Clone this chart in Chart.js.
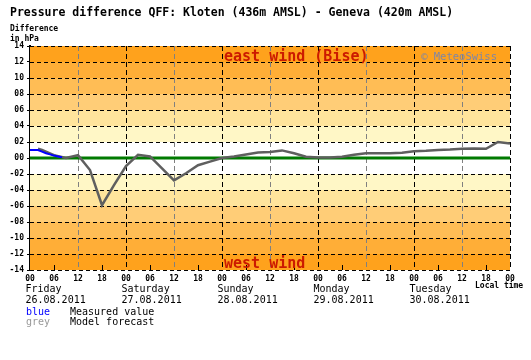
<!DOCTYPE html>
<html><head><meta charset="utf-8">
<script src="https://cdn.jsdelivr.net/npm/chart.js@4.4.0/dist/chart.umd.min.js"></script>
<style>html,body{margin:0;padding:0;background:#fff;}#wrap{position:relative;width:531px;height:360px;}</style>
</head><body><div id="wrap"><canvas id="c" width="531" height="360"></canvas></div>
<script>
// ---- data ----
const titleText = "Pressure difference QFF: Kloten (436m AMSL) - Geneva (420m AMSL)";
const yAxisTitle = ["Difference", "in hPa"];
const yTickValues = [-14,-12,-10,-8,-6,-4,-2,0,2,4,6,8,10,12,14];
const xTickHours = [0,6,12,18,24,30,36,42,48,54,60,66,72,78,84,90,96,102,108,114,120];
const dayStartHours = [0,24,48,72,96];
const dayNames = ["Friday","Saturday","Sunday","Monday","Tuesday"];
const dayDates = ["26.08.2011","27.08.2011","28.08.2011","29.08.2011","30.08.2011"];
const measuredHours = [0,2,3,4,5,6,7,8];
const measuredValues = [1.0,1.0,0.8,0.6,0.45,0.3,0.2,0.1];
const forecastHours = [2,3,6,9,12,15,18,21,24,27,30,33,36,39,42,45,48,51,54,57,60,63,66,69,72,75,78,81,84,87,90,93,96,99,102,105,108,111,114,117,120];
const forecastValues = [1.15,1.0,0.35,0.0,0.35,-1.5,-5.9,-3.4,-1.0,0.4,0.2,-1.3,-2.8,-1.9,-0.9,-0.45,0.0,0.2,0.45,0.7,0.75,0.95,0.6,0.15,0.05,0.05,0.15,0.4,0.6,0.6,0.6,0.65,0.85,0.9,1.0,1.05,1.15,1.2,1.15,2.0,1.8];
const zeroHours = [0,120];
const zeroValues = [0,0];
const legendKeys = ["blue","grey"];
const legendTexts = ["Measured value","Model forecast"];

// ---- styling ----
const mono = '"DejaVu Sans Mono", monospace';
const bandColors = {14:'#ffa21c',12:'#ffae37',10:'#ffbd55',8:'#ffcd77',6:'#ffe49c',4:'#fff7c6',2:'#ffffff'};

const pts = (xs, ys) => xs.map((h,i)=>({x:h, y:ys[i]}));

const decor = {
  id:'decor',
  beforeDatasetsDraw(chart){
    const {ctx, chartArea:a, scales:{x,y}} = chart;
    ctx.save();
    for (let i=0;i<yTickValues.length-1;i++){
      const lo=yTickValues[i], hi=yTickValues[i+1];
      const key = Math.max(Math.abs(lo),Math.abs(hi));
      const y1=y.getPixelForValue(hi), y2=y.getPixelForValue(lo);
      ctx.fillStyle = bandColors[key];
      ctx.fillRect(a.left, y1, a.right-a.left, y2-y1);
    }
    ctx.lineWidth=1;
    ctx.strokeStyle='#000'; ctx.setLineDash([4,3]);
    yTickValues.forEach(v=>{
      if (v===0) return;
      const py=Math.round(y.getPixelForValue(v))+0.5;
      ctx.beginPath(); ctx.moveTo(a.left,py); ctx.lineTo(a.right+1,py); ctx.stroke();
    });
    xTickHours.forEach(h=>{
      if (h%12!==0 || h===0) return;
      const px=Math.round(x.getPixelForValue(h))+0.5;
      ctx.strokeStyle = (h%24===0)?'#000':'#808080';
      ctx.setLineDash([5,3]);
      ctx.beginPath(); ctx.moveTo(px,a.top); ctx.lineTo(px,a.bottom); ctx.stroke();
    });
    ctx.setLineDash([]); ctx.strokeStyle='#000';
    xTickHours.forEach(h=>{
      if (h%12===0) return;
      const px=Math.round(x.getPixelForValue(h))+0.5;
      ctx.beginPath(); ctx.moveTo(px,a.bottom); ctx.lineTo(px,a.bottom-5); ctx.stroke();
    });
    ctx.restore();
  },
  afterDraw(chart){
    const {ctx, chartArea:a, scales:{x}} = chart;
    ctx.save();
    ctx.textBaseline='alphabetic'; ctx.textAlign='left';
    ctx.fillStyle='#000';
    ctx.font='bold 11.5px '+mono; ctx.fillText(titleText, 10, 16);
    ctx.font='bold 8px '+mono;
    ctx.fillText(yAxisTitle[0], 10, 31);
    ctx.fillText(yAxisTitle[1], 10, 41);
    ctx.fillStyle='#cc1a00'; ctx.font='bold 15px '+mono;
    const wx = x.getPixelForValue(48)+2;
    ctx.fillText('east wind (Bise)', wx, a.top+15);
    ctx.fillText('west wind', wx, a.bottom-2);
    ctx.fillStyle='#7f86a6'; ctx.font='10.5px '+mono; ctx.textAlign='right';
    ctx.fillText('\u00a9 MeteoSwiss', a.right-13, a.top+14);
    ctx.textAlign='left';
    ctx.fillStyle='#000'; ctx.font='10px '+mono;
    dayStartHours.forEach((h,i)=>{
      const px = x.getPixelForValue(h)-4.5;
      ctx.fillText(dayNames[i], px, 292);
      ctx.fillText(dayDates[i], px, 303);
    });
    ctx.font='bold 8px '+mono;
    ctx.fillText('Local time', x.getPixelForValue(120)-35, 288);
    ctx.font='10px '+mono;
    ctx.fillStyle='#0000ff'; ctx.fillText(legendKeys[0], 26, 315);
    ctx.fillStyle='#999999'; ctx.fillText(legendKeys[1], 26, 325);
    ctx.fillStyle='#000';
    ctx.fillText(legendTexts[0], 70, 315);
    ctx.fillText(legendTexts[1], 70, 325);
    ctx.restore();
  }
};

new Chart(document.getElementById('c'), {
  type:'line',
  data:{ datasets:[
    {label:'Measured value', data:pts(measuredHours,measuredValues), borderColor:'#0000ff', borderWidth:2, pointRadius:0, tension:0},
    {label:'Model forecast', data:pts(forecastHours,forecastValues), borderColor:'#5f5f5f', borderWidth:2.5, pointRadius:0, tension:0},
    {label:'zero', data:pts(zeroHours,zeroValues), borderColor:'#007a00', borderWidth:3, pointRadius:0, tension:0}
  ]},
  options:{
    responsive:false, animation:false,
    layout:{padding:{top:46, right:21, left:0, bottom:0}},
    plugins:{legend:{display:false}, title:{display:false}, tooltip:{enabled:false}},
    scales:{
      x:{type:'linear', min:0, max:120,
        afterBuildTicks(s){ s.ticks = xTickHours.map(v=>({value:v})); },
        afterFit(s){ s.height = 90; },
        grid:{display:false, drawTicks:false, tickLength:0}, border:{display:false},
        ticks:{autoSkip:false, maxRotation:0, padding:4, color:'#000', font:{family:mono, size:8, weight:'bold'},
          callback:(v)=>String(v%24).padStart(2,'0')}
      },
      y:{type:'linear', min:-14, max:14,
        afterBuildTicks(s){ s.ticks = yTickValues.map(v=>({value:v})); },
        afterFit(s){ s.width = 30; },
        grid:{display:true, drawOnChartArea:false, drawTicks:true, tickLength:3, color:'#000'},
        border:{display:true, color:'#000', width:2},
        ticks:{padding:3, color:'#000', font:{family:mono, size:8, weight:'bold'},
          callback:(v)=> v<0 ? '-'+String(-v).padStart(2,'0') : String(v).padStart(2,'0')}
      }
    }
  },
  plugins:[decor]
});
</script>
</body></html>
